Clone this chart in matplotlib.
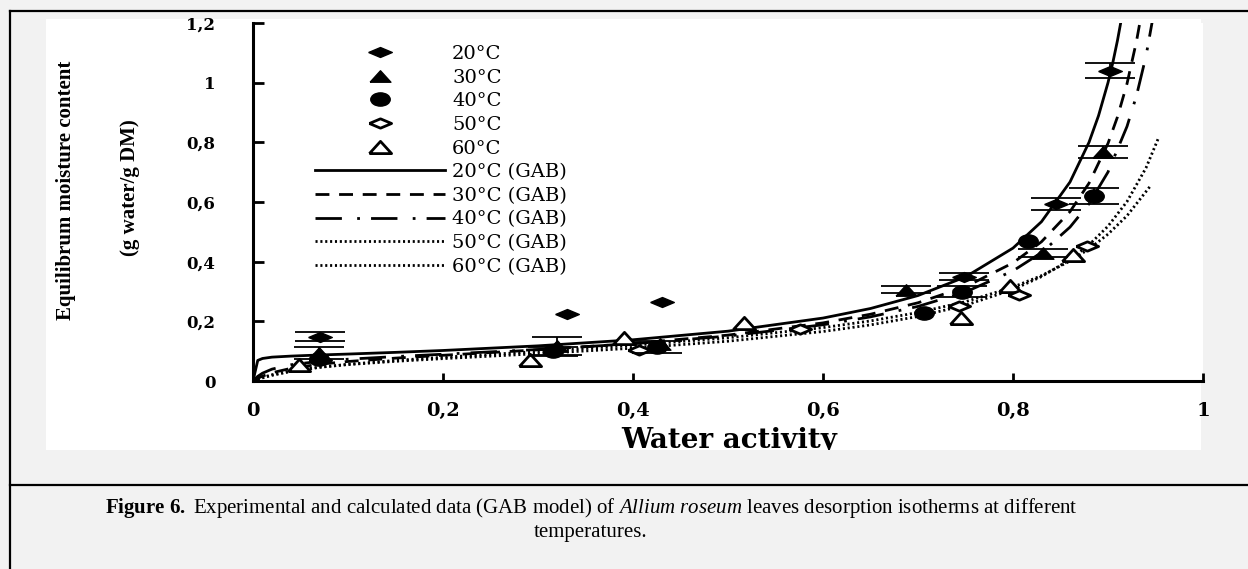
import numpy as np
import matplotlib
matplotlib.use('Agg')
import matplotlib.pyplot as plt
from matplotlib.path import Path
from matplotlib.transforms import Affine2D
from matplotlib.lines import Line2D
from matplotlib.patches import Rectangle
from matplotlib.font_manager import FontProperties

plt.rcParams['lines.scale_dashes'] = False
plt.rcParams['mathtext.fontset'] = 'custom'
plt.rcParams['mathtext.rm'] = 'Liberation Serif'
plt.rcParams['mathtext.it'] = 'Liberation Serif:italic'
plt.rcParams['mathtext.bf'] = 'Liberation Serif:bold'

# experimental points (water activity, moisture content, error)
aw20 = [0.07, 0.33, 0.43, 0.748, 0.845, 0.902]
m20 = [0.148, 0.223, 0.266, 0.350, 0.593, 1.040]
e20 = [0.015, 0, 0, 0.012, 0.021, 0.025]

aw30 = [0.069, 0.32, 0.428, 0.687, 0.832, 0.895]
m30 = [0.093, 0.117, 0.125, 0.306, 0.429, 0.768]
e30 = [0.02, 0.03, 0, 0.011, 0.013, 0.02]

aw40 = [0.069, 0.316, 0.425, 0.706, 0.746, 0.816, 0.885]
m40 = [0.075, 0.100, 0.115, 0.228, 0.300, 0.468, 0.620]
e40 = [0, 0.015, 0.02, 0, 0.017, 0, 0.028]

aw50 = [0.07, 0.406, 0.576, 0.743, 0.806, 0.878]
m50 = [0.072, 0.104, 0.174, 0.250, 0.289, 0.451]

aw60 = [0.048, 0.292, 0.39, 0.517, 0.745, 0.797, 0.863]
m60 = [0.052, 0.071, 0.143, 0.196, 0.210, 0.317, 0.424]

# GAB curves
aw_gab20 = [0, 0.005, 0.01, 0.02, 0.04, 0.07, 0.1, 0.15, 0.2, 0.3, 0.4, 0.5, 0.6, 0.65,
            0.7, 0.75, 0.8, 0.83, 0.86, 0.88, 0.89, 0.9, 0.905, 0.91, 0.915]
gab20 = [0, 0.069, 0.0755, 0.080, 0.0835, 0.0872, 0.0903, 0.096, 0.1023, 0.1178, 0.1382,
         0.167, 0.211, 0.243, 0.2865, 0.349, 0.4455, 0.534, 0.667, 0.800, 0.889, 1.0,
         1.066, 1.142, 1.229]

aw_gab30 = [0, 0.005, 0.01, 0.02, 0.04, 0.07, 0.1, 0.15, 0.2, 0.3, 0.4, 0.5, 0.6, 0.65,
            0.7, 0.75, 0.8, 0.83, 0.86, 0.88, 0.9, 0.91, 0.92, 0.93, 0.935]
gab30 = [0, 0.009, 0.0163, 0.0276, 0.0425, 0.0562, 0.0654, 0.0767, 0.0862, 0.1045, 0.1258,
         0.1538, 0.1948, 0.2238, 0.2622, 0.3158, 0.396, 0.4668, 0.5677, 0.663, 0.7965,
         0.8854, 0.9965, 1.139, 1.227]

aw_gab40 = [0, 0.005, 0.01, 0.02, 0.04, 0.07, 0.1, 0.15, 0.2, 0.3, 0.4, 0.5, 0.6, 0.65,
            0.7, 0.75, 0.8, 0.83, 0.86, 0.88, 0.9, 0.92, 0.93, 0.94, 0.95]
gab40 = [0, 0.0156, 0.0262, 0.0398, 0.0545, 0.0659, 0.0730, 0.0819, 0.0897, 0.1056, 0.1248,
         0.1507, 0.1885, 0.215, 0.250, 0.2983, 0.3692, 0.4304, 0.5158, 0.594, 0.7004,
         0.8532, 0.9564, 1.089, 1.2655]

aw_gab50 = [0, 0.005, 0.01, 0.02, 0.04, 0.07, 0.1, 0.15, 0.2, 0.3, 0.4, 0.5, 0.6, 0.65,
            0.7, 0.75, 0.8, 0.83, 0.86, 0.88, 0.9, 0.92, 0.94, 0.953]
gab50 = [0, 0.0065, 0.012, 0.021, 0.0338, 0.0464, 0.0551, 0.066, 0.075, 0.0916, 0.110,
         0.1334, 0.1659, 0.1881, 0.2163, 0.254, 0.3067, 0.3499, 0.4069, 0.4562, 0.5189,
         0.6013, 0.7144, 0.8136]

aw_gab60 = [0, 0.005, 0.01, 0.02, 0.04, 0.07, 0.1, 0.15, 0.2, 0.3, 0.4, 0.5, 0.6, 0.65,
            0.7, 0.75, 0.8, 0.83, 0.86, 0.88, 0.9, 0.92, 0.944]
gab60 = [0, 0.0055, 0.0104, 0.0189, 0.0319, 0.0457, 0.0559, 0.069, 0.0796, 0.099, 0.1196,
         0.1449, 0.1789, 0.2014, 0.2295, 0.2658, 0.3147, 0.3532, 0.4021, 0.4427, 0.4921,
         0.5538, 0.6512]

xticks = [0, 0.2, 0.4, 0.6, 0.8, 1.0]
xtick_labels = ['0', '0,2', '0,4', '0,6', '0,8', '1']
yticks = [0, 0.2, 0.4, 0.6, 0.8, 1.0, 1.2]
ytick_labels = ['0', '0,2', '0,4', '0,6', '0,8', '1', '1,2']

W, H = 1248, 569
def fx(px):
    return px / W
def fy(py):
    return 1 - py / H

GRAY = '#f2f2f2'
fig = plt.figure(figsize=(W / 100, H / 100), dpi=100, facecolor=GRAY)

# white chart panel + page frame lines
fig.add_artist(Rectangle((fx(46), fy(450)), fx(1201) - fx(46), fy(19) - fy(450),
                         transform=fig.transFigure, facecolor='white', edgecolor='none', zorder=0))
for xs, ys in [([10, W], [11, 11]), ([10, 10], [11, H]), ([10, W], [485, 485])]:
    fig.add_artist(Line2D([fx(v) for v in xs], [fy(v) for v in ys], transform=fig.transFigure,
                          color='black', lw=1.6, zorder=5))

ax = fig.add_axes([fx(253), fy(381), fx(1203) - fx(253), fy(23) - fy(381)])
ax.set_facecolor('white')

# stretched marker shapes (the original picture is widened)
diamond = [(-1, 0), (0, 0.42), (1, 0), (0, -0.42), (-1, 0)]
tri = [(-1, -0.55), (0, 0.55), (1, -0.55), (-1, -0.55)]
ellipse = Path.unit_circle().transformed(Affine2D().scale(1, 0.68))

l20, = ax.plot(aw_gab20, gab20, color='black', lw=2.0, zorder=2, label='20°C (GAB)')
l30, = ax.plot(aw_gab30, gab30, color='black', lw=2.0, dashes=(10, 7), zorder=2, label='30°C (GAB)')
l40, = ax.plot(aw_gab40, gab40, color='black', lw=2.0, dashes=(19, 11, 2, 8), zorder=2, label='40°C (GAB)')
l50, = ax.plot(aw_gab50, gab50, color='black', lw=2.0, dashes=(1.5, 2.0), zorder=2, label='50°C (GAB)')
l60, = ax.plot(aw_gab60, gab60, color='black', lw=2.0, dashes=(1.5, 2.0), zorder=2, label='60°C (GAB)')

p60, = ax.plot(aw60, m60, ls='none', marker=tri, ms=16, mfc='white', mec='black', mew=2, zorder=3, label='60°C')
p50, = ax.plot(aw50, m50, ls='none', marker=diamond, ms=16, mfc='white', mec='black', mew=2, zorder=3, label='50°C')
p40, = ax.plot(aw40, m40, ls='none', marker=ellipse, ms=14, mfc='black', mec='black', zorder=4, label='40°C')
p30, = ax.plot(aw30, m30, ls='none', marker=tri, ms=15, mfc='black', mec='black', zorder=4, label='30°C')
p20, = ax.plot(aw20, m20, ls='none', marker=diamond, ms=17, mfc='black', mec='black', zorder=4, label='20°C')

for xs, ys, es in [(aw20, m20, e20), (aw30, m30, e30), (aw40, m40, e40)]:
    xs, ys, es = np.array(xs), np.array(ys), np.array(es)
    sel = es > 0
    ax.errorbar(xs[sel], ys[sel], yerr=es[sel], fmt='none', ecolor='black',
                elinewidth=1.3, capsize=18, capthick=1.3, zorder=4)

handles = [p20, p30, p40, p50, p60, l20, l30, l40, l50, l60]
ax.legend(handles, [h.get_label() for h in handles], loc='upper left',
          bbox_to_anchor=(fx(315), fy(45)), bbox_transform=fig.transFigure,
          frameon=False, prop=FontProperties(family='DejaVu Serif', size=14),
          handlelength=6.7, handletextpad=0.35, labelspacing=0.29,
          borderpad=0, borderaxespad=0, numpoints=1)

ax.set_xlim(0, 1)
ax.set_ylim(0, 1.2)
ax.spines['top'].set_visible(False)
ax.spines['right'].set_visible(False)
ax.spines['left'].set_linewidth(2.2)
ax.spines['bottom'].set_linewidth(2.2)
ax.set_xticks(xticks)
ax.set_xticklabels(xtick_labels, family='DejaVu Serif', weight='bold', size=14)
ax.set_yticks(yticks)
ax.set_yticklabels(ytick_labels, family='DejaVu Serif', weight='bold', size=12)
ax.tick_params(axis='x', direction='in', length=6, width=2, pad=15)
ax.tick_params(axis='y', direction='in', length=8, width=2, pad=27)

# axis titles
fig.text(fx(66), fy(190), 'Equilibrum moisture content', rotation=90, ha='center', va='center',
         family='Liberation Serif', weight='bold', size=15)
fig.text(fx(130), fy(188), '(g water/g DM)', rotation=90, ha='center', va='center',
         family='Liberation Serif', weight='bold', size=15)
fig.text(fx(729), fy(441), 'Water activity', ha='center', va='center',
         family='DejaVu Serif', weight='bold', size=20, zorder=3)
fig.add_artist(Rectangle((fx(46), fy(484)), fx(1201) - fx(46), fy(450) - fy(484),
                         transform=fig.transFigure, facecolor=GRAY, edgecolor='none', zorder=4))

# caption
fig.text(fx(591), fy(508),
         r'$\mathbf{Figure\ 6.}$ Experimental and calculated data (GAB model) of '
         r'$\mathit{Allium\ roseum}$ leaves desorption isotherms at different',
         ha='center', va='center', family='Liberation Serif', size=15)
fig.text(fx(591), fy(533), 'temperatures.', ha='center', va='center',
         family='Liberation Serif', size=15)

fig.savefig('out.png', dpi=100, facecolor=GRAY)
